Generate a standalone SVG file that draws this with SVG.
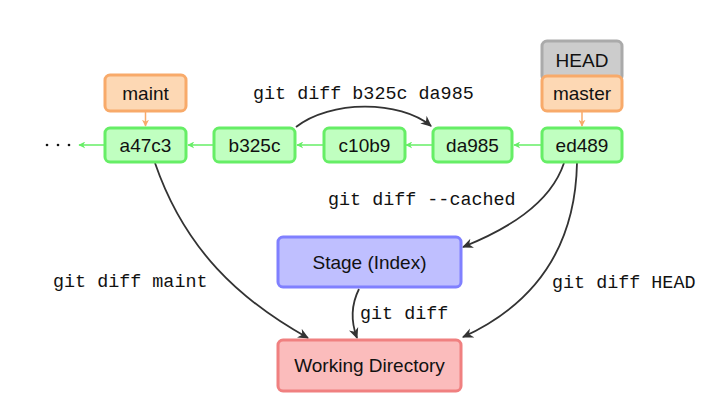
<svg xmlns="http://www.w3.org/2000/svg" width="721" height="408" viewBox="0 0 721 408">
<defs>
<style>
.sans{font-family:"Liberation Sans","DejaVu Sans",sans-serif;font-size:19px;fill:#111;text-anchor:middle}
.mono{font-family:"Liberation Mono","DejaVu Sans Mono",monospace;font-size:18.4px;fill:#111}
.commit{fill:#c0ffc0;stroke:#66ee66;stroke-width:3}
.branch{fill:#fdd8b4;stroke:#f8aa6a;stroke-width:3}
.head{fill:#cccccc;stroke:#aaaaaa;stroke-width:3}
.stage{fill:#bfbfff;stroke:#8080ff;stroke-width:3}
.work{fill:#fbbcbc;stroke:#f08080;stroke-width:3}
.gline{stroke:#66ee66;stroke-width:1.5;fill:none}
.oline{stroke:#f8aa6a;stroke-width:1.5;fill:none}
.dline{stroke:#333;stroke-width:1.8;fill:none}
</style>
<marker id="ag" viewBox="0 0 10 10" refX="9" refY="5" markerWidth="7" markerHeight="7" markerUnits="userSpaceOnUse" orient="auto">
<path d="M0,0 L10,5 L0,10 L3,5 Z" fill="#66ee66"/>
</marker>
<marker id="ao" viewBox="0 0 10 10" refX="9" refY="5" markerWidth="7" markerHeight="7" markerUnits="userSpaceOnUse" orient="auto">
<path d="M0,0 L10,5 L0,10 L3,5 Z" fill="#f8aa6a"/>
</marker>
<marker id="ad" viewBox="0 0 10 10" refX="9" refY="5" markerWidth="11" markerHeight="11" markerUnits="userSpaceOnUse" orient="auto">
<path d="M0,0.5 L10,5 L0,9.5 L3,5 Z" fill="#333"/>
</marker>
</defs>

<g id="connectors">
<path class="gline" d="M104 145 L79 145" marker-end="url(#ag)"/>
<path class="gline" d="M213 145 L188 145" marker-end="url(#ag)"/>
<path class="gline" d="M323 145 L297 145" marker-end="url(#ag)"/>
<path class="gline" d="M432 145 L406 145" marker-end="url(#ag)"/>
<path class="gline" d="M541 145 L514 145" marker-end="url(#ag)"/>
<path class="oline" d="M145.5 112 L145.5 126" marker-end="url(#ao)"/>
<path class="oline" d="M582 112 L582 126" marker-end="url(#ao)"/>
<path class="dline" d="M296 127 C330 100,400 100,431 126" marker-end="url(#ad)"/>
<path class="dline" d="M564 163 C550 205,505 230,463 247" marker-end="url(#ad)"/>
<path class="dline" d="M577 163 C575 260,522 310,463 337" marker-end="url(#ad)"/>
<path class="dline" d="M155 163 C185 250,240 300,308 338" marker-end="url(#ad)"/>
<path class="dline" d="M359 289 C351 305,351 322,357 338" marker-end="url(#ad)"/>
<text class="mono" x="253" y="99">git diff b325c da985</text>
<text class="mono" x="328" y="205">git diff --cached</text>
<text class="mono" x="552" y="288">git diff HEAD</text>
<text class="mono" x="360" y="319">git diff</text>
<text class="mono" x="53" y="287">git diff maint</text>
</g>

<g id="dots">
<circle cx="47" cy="145" r="1.3" fill="#111"/>
<circle cx="58" cy="145" r="1.3" fill="#111"/>
<circle cx="69" cy="145" r="1.3" fill="#111"/>
</g>

<g id="HEAD">
<rect class="head" x="542" y="41" width="80" height="40" rx="5"/>
<text class="sans" x="582" y="67">HEAD</text>
</g>
<g id="master">
<rect class="branch" x="542" y="76" width="80" height="35" rx="5"/>
<text class="sans" x="582" y="100">master</text>
</g>
<g id="maint">
<rect class="branch" x="105" y="75" width="81" height="36" rx="5"/>
<text class="sans" x="145.5" y="100">maint</text>
</g>

<g id="a47c3">
<rect class="commit" x="105" y="128" width="81" height="34" rx="5"/>
<text class="sans" x="145.5" y="152">a47c3</text>
</g>
<g id="b325c">
<rect class="commit" x="214" y="128" width="81" height="34" rx="5"/>
<text class="sans" x="254.5" y="152">b325c</text>
</g>
<g id="c10b9">
<rect class="commit" x="324" y="128" width="81" height="34" rx="5"/>
<text class="sans" x="364.5" y="152">c10b9</text>
</g>
<g id="da985">
<rect class="commit" x="433" y="128" width="79" height="34" rx="5"/>
<text class="sans" x="472.5" y="152">da985</text>
</g>
<g id="ed489">
<rect class="commit" x="542" y="128" width="80" height="34" rx="5"/>
<text class="sans" x="582" y="152">ed489</text>
</g>

<g id="stage">
<rect class="stage" x="278" y="237" width="183" height="50" rx="5"/>
<text class="sans" x="369.5" y="269">Stage (Index)</text>
</g>
<g id="working">
<rect class="work" x="278" y="340" width="183" height="51" rx="5"/>
<text class="sans" x="369.5" y="372">Working Directory</text>
</g>
</svg>
